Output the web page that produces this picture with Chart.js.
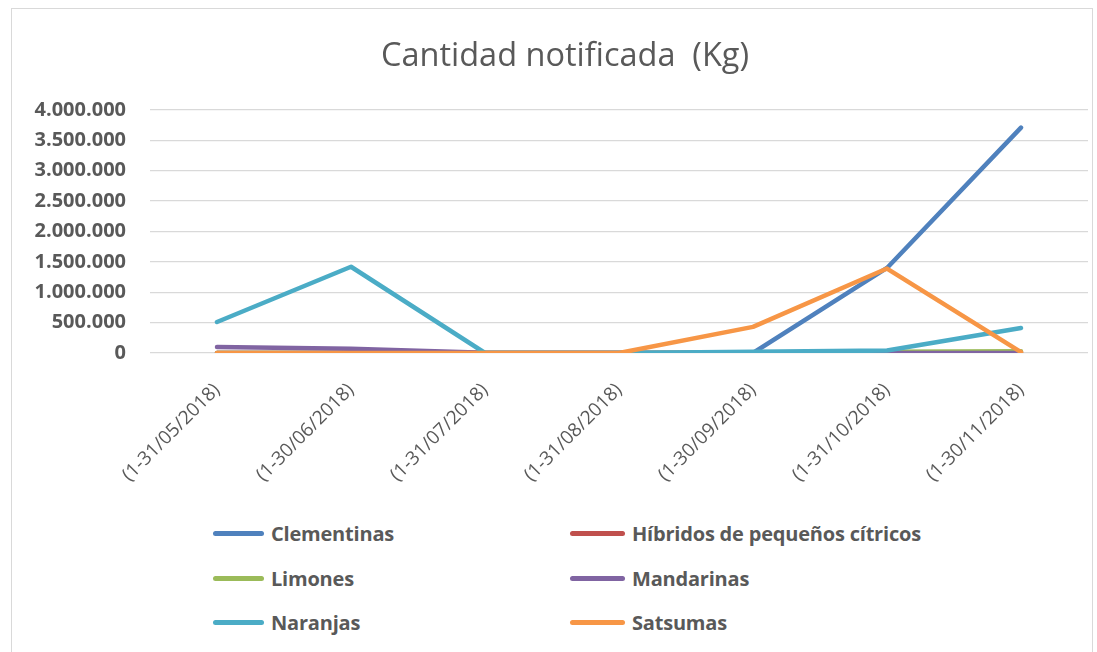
<!DOCTYPE html>
<html>
<head>
<meta charset="utf-8">
<script src="https://cdn.jsdelivr.net/npm/chart.js@4"></script>
<style>
  body { margin: 0; background: #fff; }
  #wrap { position: relative; width: 1097px; height: 652px; overflow: hidden; font-family: "Open Sans", sans-serif; }
  #frame { position: absolute; left: 11px; top: 8px; width: 1080px; height: 700px; border: 1px solid #d9d9d9; }
  #chart { position: absolute; left: 0; top: 0; }
  .leg { position: absolute; display: flex; align-items: center; font-weight: bold; font-size: 20px; color: #595959; letter-spacing: -0.2px; white-space: nowrap; }
  .leg span.ln { display: inline-block; height: 5px; border-radius: 3px; margin-right: 7px; }
</style>
</head>
<body>
<div id="wrap">
  <div id="frame"></div>
  <canvas id="chart" width="1130" height="495"></canvas>
  <div id="legend"></div>
</div>
<script>
const periods = ["(1-31/05/2018)", "(1-30/06/2018)", "(1-31/07/2018)", "(1-31/08/2018)",
  "(1-30/09/2018)", "(1-31/10/2018)", "(1-30/11/2018)"];

const clementinas = [0, 0, 0, 0, 0, 1400000, 3710000];
const hibridos = [0, 0, 0, 0, 0, 0, 0];
const limones = [0, 0, 0, 0, 10000, 20000, 30000];
const mandarinas = [100000, 70000, 5000, 0, 0, 0, 0];
const naranjas = [510000, 1420000, 0, 0, 20000, 40000, 410000];
const satsumas = [0, 0, 0, 0, 430000, 1390000, 15000];

const seriesNames = ["Clementinas", "Híbridos de pequeños cítricos", "Limones", "Mandarinas", "Naranjas", "Satsumas"];
const seriesData = [clementinas, hibridos, limones, mandarinas, naranjas, satsumas];
const seriesColors = ["#4F81BD", "#C0504D", "#9BBB59", "#8064A2", "#4BACC6", "#F79646"];

const yMax = 4000000;
const yStep = 500000;

const fmt = v => String(v).replace(/\B(?=(\d{3})+(?!\d))/g, ".");

const datasets = seriesNames.map((name, i) => ({
  label: name,
  data: seriesData[i],
  borderColor: seriesColors[i],
  backgroundColor: seriesColors[i],
  borderWidth: 4.5,
  pointRadius: 0,
  tension: 0,
  borderCapStyle: "round",
  borderJoinStyle: "round",
  order: seriesNames.length - i  // later series on top, like Excel
}));

const chart = new Chart(document.getElementById("chart"), {
  type: "line",
  data: { labels: periods, datasets },
  options: {
    responsive: false,
    devicePixelRatio: 1,
    animation: false,
    layout: { padding: 0 },
    plugins: {
      legend: { display: false },
      tooltip: { enabled: false },
      title: {
        display: true,
        text: "Cantidad notificada  (Kg)",
        color: "#595959",
        font: { family: "Open Sans", size: 32.5, weight: "normal" },
        padding: { top: 37, bottom: 34 }
      }
    },
    scales: {
      x: {
        offset: true,
        grid: { display: false },
        border: { display: false },
        ticks: {
          color: "#595959",
          font: { family: "Open Sans", size: 19 },
          minRotation: 45,
          maxRotation: 45,
          padding: 18
        },
        afterFit: s => { s.height = 142; }
      },
      y: {
        min: 0,
        max: yMax,
        grid: { color: "#d9d9d9", lineWidth: 1.3, drawTicks: false },
        border: { display: false },
        ticks: {
          stepSize: yStep,
          color: "#595959",
          font: { family: "Open Sans", size: 20, weight: "bold" },
          padding: 24,
          callback: v => fmt(v)
        },
        afterFit: s => { s.width = 150; }
      },
      // empty spacer on the right so the title sits where it does in the original
      spacer: {
        type: "linear",
        position: "right",
        grid: { display: false },
        border: { display: false },
        ticks: { display: false },
        afterFit: s => { s.width = 42; }
      }
    }
  }
});

// two-column legend below the chart, built from the datasets
const legPos = [[213, 533], [570, 533], [213, 578], [570, 578], [213, 622], [570, 622]];
const legend = document.getElementById("legend");
chart.data.datasets.forEach((ds, i) => {
  const item = document.createElement("div");
  item.className = "leg";
  item.style.left = legPos[i][0] + "px";
  item.style.top = (legPos[i][1] - 14) + "px";
  item.style.height = "28px";
  item.innerHTML = '<span class="ln" style="width:' + (i % 2 ? 55 : 51) + 'px;background:' + ds.borderColor + '"></span>' + ds.label;
  legend.appendChild(item);
});
</script>
</body>
</html>
